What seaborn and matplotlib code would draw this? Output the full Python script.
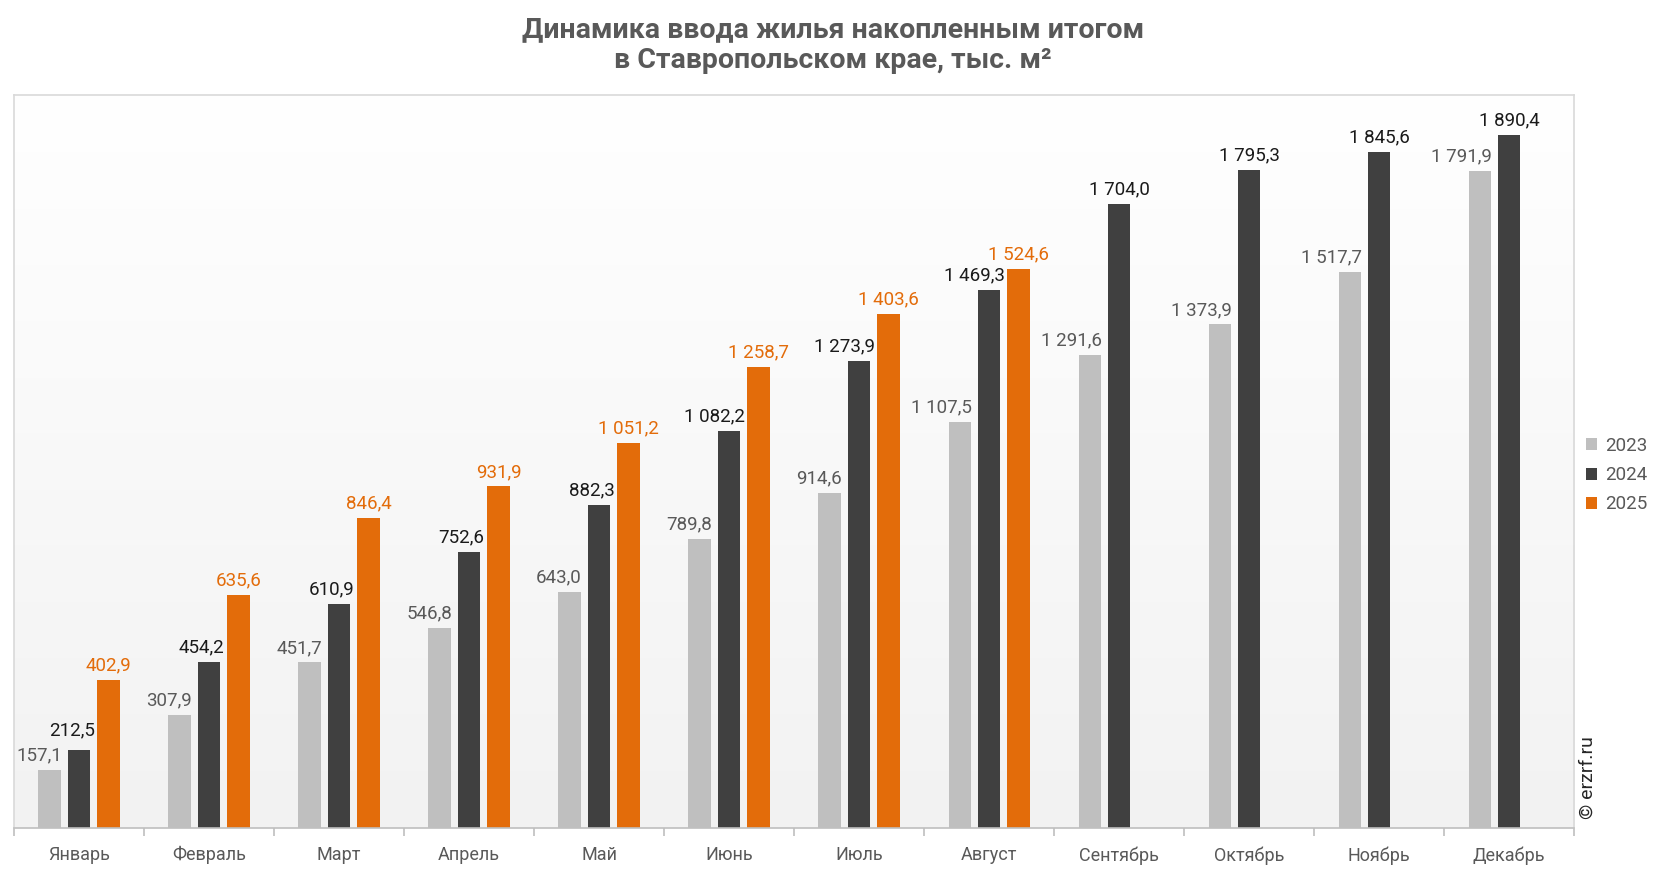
import numpy as np
import pandas as pd
import matplotlib
matplotlib.use("Agg")
import matplotlib.pyplot as plt
from matplotlib.patches import Patch
import seaborn as sns

# Data (thousand m², cumulative)
months = ['Январь', 'Февраль', 'Март', 'Апрель', 'Май', 'Июнь',
          'Июль', 'Август', 'Сентябрь', 'Октябрь', 'Ноябрь', 'Декабрь']
years = ['2023', '2024', '2025']
v2023 = [157.1, 307.9, 451.7, 546.8, 643.0, 789.8, 914.6, 1107.5, 1291.6, 1373.9, 1517.7, 1791.9]
v2024 = [212.5, 454.2, 610.9, 752.6, 882.3, 1082.2, 1273.9, 1469.3, 1704.0, 1795.3, 1845.6, 1890.4]
v2025 = [402.9, 635.6, 846.4, 931.9, 1051.2, 1258.7, 1403.6, 1524.6, np.nan, np.nan, np.nan, np.nan]

colors = {'2023': '#bfbfbf', '2024': '#404040', '2025': '#e36c0a'}
label_colors = {'2023': '#595959', '2024': '#1a1a1a', '2025': '#e36c0a'}

df = pd.DataFrame({
    'month': months * 3,
    'year': ['2023'] * 12 + ['2024'] * 12 + ['2025'] * 12,
    'value': v2023 + v2024 + v2025,
}).dropna()

sns.set_style("white")
plt.rcParams['font.family'] = ['Roboto', 'DejaVu Sans']

fig = plt.figure(figsize=(16.66, 8.72), dpi=100)
ax = fig.add_axes([0.0084, 0.0505, 0.9364, 0.8405])

# gradient background
grad = np.linspace(0, 1, 256).reshape(-1, 1)
ax.imshow(grad, extent=[0, 1, 0, 1], transform=ax.transAxes, aspect='auto',
          cmap=matplotlib.colors.LinearSegmentedColormap.from_list('bg', ['#f2f2f2', '#ffffff']),
          origin='lower', zorder=0)

sns.barplot(data=df, x='month', y='value', hue='year', order=months, hue_order=years,
            palette=colors, width=0.68, gap=0.25, linewidth=0, saturation=1,
            legend=False, ax=ax, zorder=2)

ax.set_xlim(-0.5, 11.5)
ax.set_ylim(0, 2000)
ax.set_xlabel('')
ax.set_ylabel('')
ax.set_yticks([])


def fmt(v):
    s = f"{v:,.1f}".replace(',', ' ').replace('.', ',')
    return s


cont23, cont24, cont25 = ax.containers[:3]
for year, cont in zip(years, [cont23, cont24, cont25]):
    for i, bar in enumerate(cont):
        h = bar.get_height()
        if np.isnan(h):
            continue
        if year == '2023':
            # right-aligned to its own bar
            x, ha, off = bar.get_x() + bar.get_width(), 'right', (1, 4)
        elif year == '2024' and i < len(cont25):
            # pushed left to clear the taller 2025 bar
            x, ha, off = cont25[i].get_x(), 'right', (-2, 4)
            if i == 0:
                off = (-2, 8)
        else:
            x, ha, off = bar.get_x() + bar.get_width() / 2, 'center', (0, 4)
        ax.annotate(fmt(h), (x, h), xytext=off, textcoords='offset points',
                    ha=ha, va='bottom', fontsize=13.5, color=label_colors[year], zorder=3)

# axis styling
for side in ['left', 'top', 'right']:
    ax.spines[side].set_color('#d9d9d9')
    ax.spines[side].set_linewidth(1.2)
ax.spines['bottom'].set_color('#bfbfbf')
ax.spines['bottom'].set_linewidth(1.2)
ax.set_xticks(np.arange(-0.5, 12, 1), minor=True)
ax.tick_params(axis='x', which='minor', length=6, width=1.2, color='#bfbfbf', bottom=True)
ax.tick_params(axis='x', which='major', length=0, pad=13, labelsize=13, labelcolor='#595959')

fig.text(0.5, 0.948, 'Динамика ввода жилья накопленным итогом\nв Ставропольском крае, тыс. м²',
         ha='center', va='center', fontsize=20.5, fontweight='bold', color='#595959',
         linespacing=1.2)

handles = [Patch(facecolor=colors[y], edgecolor='none') for y in years]
fig.legend(handles, years, loc='center left', bbox_to_anchor=(0.942, 0.455),
           frameon=False, fontsize=13.5, handlelength=0.6, handleheight=0.6,
           handletextpad=0.4, labelspacing=0.6, labelcolor='#595959')

fig.text(0.953, 0.108, '© erzrf.ru', rotation=90, ha='center', va='center',
         fontsize=14, color='#262626')

fig.savefig('out.png', dpi=100, facecolor='white')
